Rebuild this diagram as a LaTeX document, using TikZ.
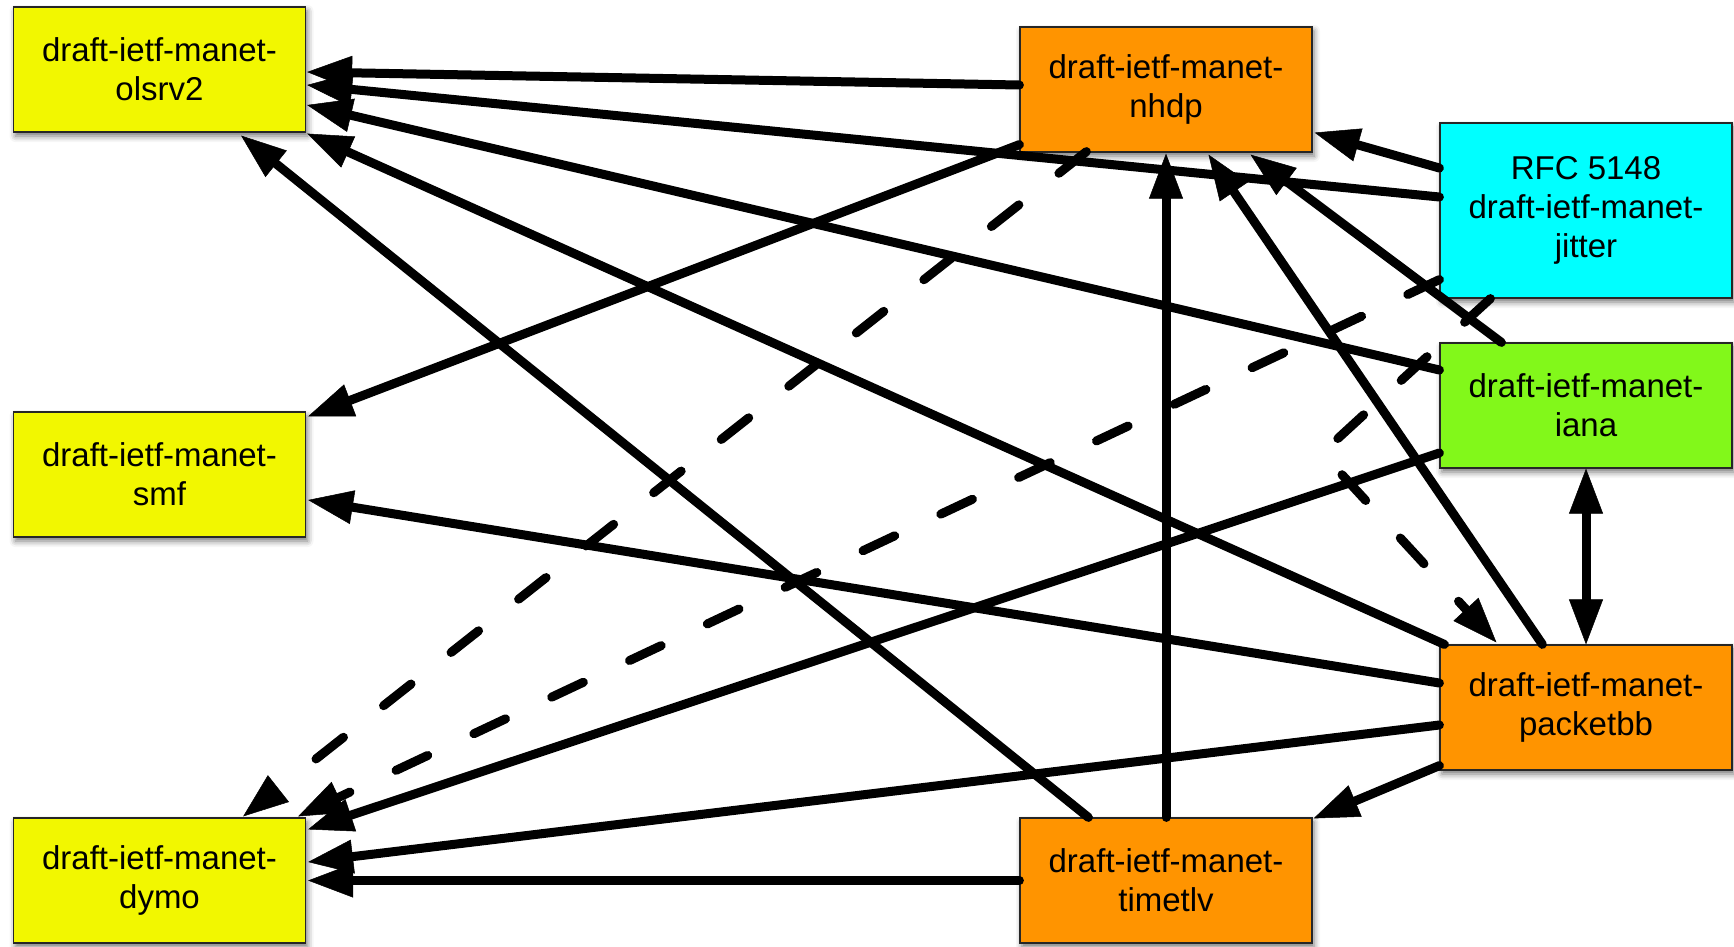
\documentclass[tikz,border=0pt]{standalone}
\usepackage{fontspec}
\setmainfont{Liberation Sans}
\usetikzlibrary{arrows.meta,calc,shadows.blur}
\definecolor{ylw}{RGB}{242,247,0}
\definecolor{org}{RGB}{255,148,0}
\definecolor{cyn}{RGB}{0,255,255}
\definecolor{grn}{RGB}{130,248,26}
\begin{document}
\begin{tikzpicture}[x=1pt,y=-1pt,
  box/.style={draw=black!85, line width=1.2pt, minimum width=292pt, minimum height=125pt,
    inner sep=0pt, align=center, font=\fontsize{33}{39}\selectfont,
    blur shadow={shadow xshift=2pt, shadow yshift=-4pt, shadow blur radius=6pt, shadow opacity=55}},
  conn/.style={line width=9pt, line cap=round, line join=round,
    -{Triangle[length=45pt,width=34pt,line width=0.5pt]}},
  dbl/.style={line width=9pt, line cap=round,
    {Triangle[length=45pt,width=34pt,line width=0.5pt]}-{Triangle[length=45pt,width=34pt,line width=0.5pt]}},
  dsh/.style={conn, dash pattern=on 35pt off 51pt},
]
\useasboundingbox (0,0) rectangle (1734,946);

\node[box, fill=ylw] (olsrv2) at (159.5,69.5) {draft-ietf-manet-\\olsrv2};
\node[box, fill=ylw] (smf) at (159.5,474.5) {draft-ietf-manet-\\smf};
\node[box, fill=ylw] (dymo) at (159.5,880.5) {draft-ietf-manet-\\dymo};
\node[box, fill=org] (nhdp) at (1166,89.5) {draft-ietf-manet-\\nhdp};
\node[box, fill=org] (timetlv) at (1166,880.5) {draft-ietf-manet-\\timetlv};
\node[box, fill=cyn, minimum height=175pt] (jitter) at (1586,210.5) {RFC 5148\\draft-ietf-manet-\\jitter};
\node[box, fill=grn] (iana) at (1586,405.5) {draft-ietf-manet-\\iana};
\node[box, fill=org] (packetbb) at (1586,707.5) {draft-ietf-manet-\\packetbb};

\coordinate (bend) at (1322,453);

% to olsrv2
\draw[conn] ($(nhdp.west)+(0,-4.5)$) -- ($(olsrv2.east)+(1,2.5)$);
\draw[conn] ($(jitter.west)+(0,-13.5)$) -- ($(olsrv2.east)+(1,15.5)$);
\draw[conn] ($(iana.west)+(0,-35.5)$) -- ($(olsrv2.east)+(1,35.5)$);
\draw[conn] ($(packetbb.north west)+(5,0)$) -- ($(olsrv2.south east)+(1,1)$);
\draw[conn] ($(timetlv.north west)+(69,0)$) -- ($(olsrv2.south east)+(-65,3)$);
% to smf
\draw[conn] ($(nhdp.south west)+(0,-8)$) -- ($(smf.north east)+(2,5)$);
\draw[conn] ($(packetbb.west)+(0,-24.5)$) -- ($(smf.east)+(2,25.5)$);
% to nhdp
\draw[conn] (timetlv.north) -- ($(nhdp.south)+(0,1)$);
\draw[conn] ($(packetbb.north west)+(103,0)$) -- ($(nhdp.south)+(42.5,2)$);
\draw[conn] ($(iana.north west)+(62,0)$) -- ($(nhdp.south)+(84.5,2)$);
\draw[conn] ($(jitter.west)+(0,-42.5)$) -- ($(nhdp.south east)+(2,-20)$);
% iana <-> packetbb
\draw[dbl] (iana.south) -- (packetbb.north);
% to timetlv
\draw[conn] ($(packetbb.south west)+(0,-5)$) -- ($(timetlv.north east)+(1,1)$);
% to dymo
\draw[conn] (timetlv.west) -- ($(dymo.east)+(2,0)$);
\draw[conn] ($(packetbb.west)+(0,17.5)$) -- ($(dymo.east)+(2,-18.5)$);
\draw[conn] ($(iana.west)+(0,47.5)$) -- ($(dymo.north east)+(2,12)$);
\draw[dsh] ($(nhdp.south west)+(67,-1)$) -- ($(dymo.north east)+(-63,-1)$);
\draw[dsh] ($(jitter.south west)+(0,-19)$) -- ($(dymo.north east)+(-8,-1)$);
% jitter -> packetbb (dashed, bent)
\draw[dsh] ($(jitter.south west)+(51,0)$) -- (bend) -- ($(packetbb.north west)+(57,-2)$);
\end{tikzpicture}
\end{document}
